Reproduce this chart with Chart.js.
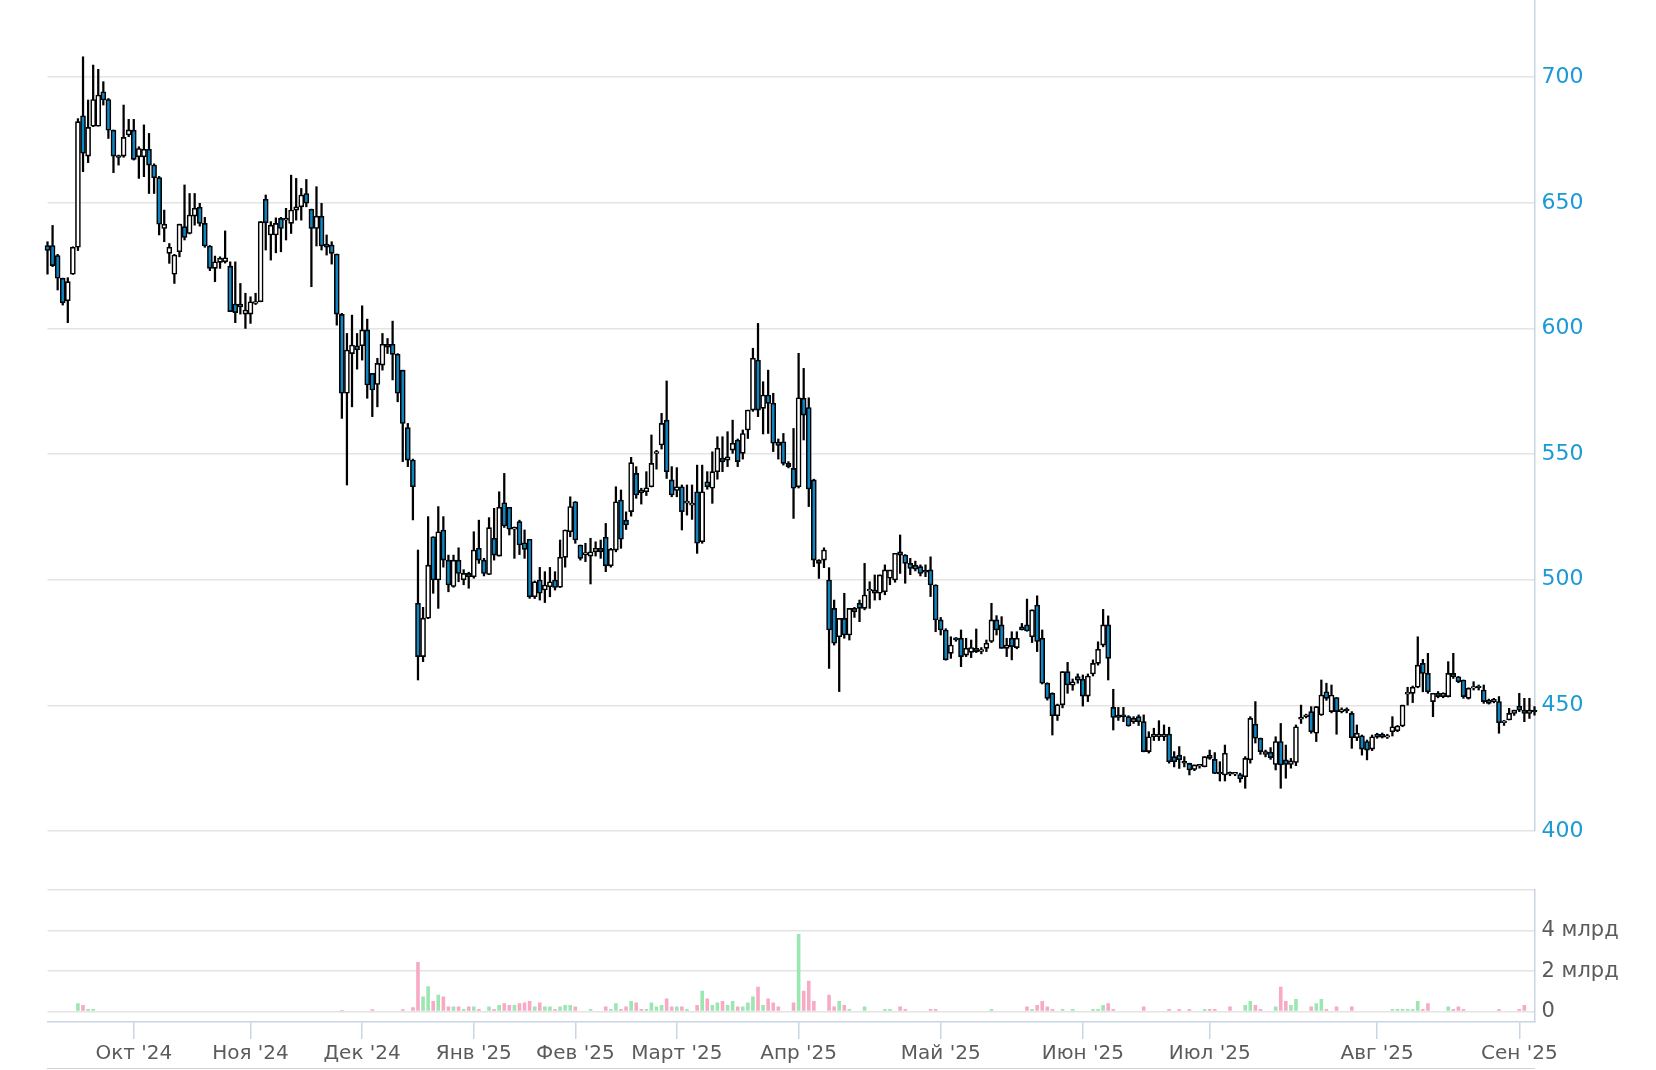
<!DOCTYPE html>
<html lang="ru">

<head>
    <meta charset="UTF-8">
    <meta name="viewport" content="width=device-width, initial-scale=1.0">
    <title>Котировки | свечи и объём</title>

    <!-- Chart.js -->
    <script src="https://cdn.jsdelivr.net/npm/chart.js"></script>

    <style>
        html,
        body {
            margin: 0;
            padding: 0;
            background: #ffffff;
        }

        .janela {
            position: relative;
            width: 1656px;
            height: 1070px;
            overflow: hidden;
        }

        #graficoPreco {
            position: absolute;
            left: 0;
            top: 0;
        }

        #graficoVolume {
            position: absolute;
            left: 0;
            top: 850px;
        }

        .linhaBase {
            position: absolute;
            left: 47px;
            top: 1068px;
            width: 1488px;
            border-top: 1px solid #d3d3d3;
        }
    </style>
</head>

<body>
    <div class="janela">
        <canvas id="graficoPreco" width="1656" height="850"></canvas>
        <canvas id="graficoVolume" width="1656" height="220"></canvas>
        <div class="linhaBase"></div>
    </div>
</body>

</html>

<script>

    // dados das velas (um valor por pregão)
    const abertura = [
        633, 633, 629, 620, 611, 621.6, 632.3, 684.6, 668.6, 680.5,
        680.5, 694.2, 691.1, 678.9, 668.6, 668.6, 677, 678.9, 668.3, 668.3,
        671.3, 665, 660, 639.8, 629.9, 621.6, 630.5, 640.5, 637.8, 644.7,
        648.2, 641.8, 632.8, 623.9, 626.3, 626.5, 624.8, 609.7, 609.7, 605.7,
        605.7, 610, 610.6, 651.4, 637.2, 637.2, 643.8, 643.1, 641.8, 647.1,
        648.4, 653.7, 647.4, 639.8, 644.7, 633.6, 633.2, 629.6, 605.6, 574.2,
        590, 593.1, 593.1, 599.4, 582.1, 577.7, 585.4, 593.7, 593.7, 589.7,
        583.4, 560.5, 547.6, 490.6, 469.4, 484.7, 517.1, 499.9, 519.8, 507.8,
        497.3, 507.8, 500, 502.5, 501.2, 512.5, 507.8, 502.1, 516.5, 509.4,
        530.6, 528.8, 520.1, 523.1, 514.7, 516.1, 493.2, 499.9, 495.9, 497.2,
        499.9, 497, 508.9, 519.1, 531, 513.8, 510, 509.4, 511.1, 512.5,
        516.9, 505.5, 511.8, 531.7, 523.7, 527.1, 542.3, 535.7, 535, 537,
        550.3, 553.6, 563.5, 539.7, 535.5, 537, 530.5, 529.7, 535, 515.1,
        539, 536.4, 543, 548.3, 547.6, 551.6, 555.6, 550.3, 559.6, 567.5,
        587.4, 568.2, 573.5, 570.2, 554.8, 554.9, 546.3, 544.3, 537, 572.2,
        568.5, 539.7, 507.8, 507.8, 499.9, 488.6, 477.3, 484.6, 478, 487.3,
        490.6, 488.6, 495.5, 495.9, 494.6, 495.2, 500.6, 499.9, 511.1, 509.8,
        506.5, 505.8, 505.2, 503.5, 503.9, 497.9, 484, 480, 470.7, 476.9,
        476.7, 470, 471.1, 472.7, 471.5, 472.7, 475.4, 484, 482, 472.7,
        476.7, 473, 481.3, 482, 477.3, 489.9, 476.7, 458.8, 454.8, 445.9,
        450.2, 463.4, 458, 461.5, 460.4, 453.7, 462.5, 466.7, 474, 482,
        449.2, 446.1, 446.1, 445.5, 443.5, 445.5, 443.5, 431.6, 437.5, 437.5,
        437.5, 438.6, 429.6, 430.2, 427.6, 426.9, 424.5, 425.8, 425.6, 430.2,
        428.5, 423.2, 422.3, 423.2, 422.6, 422.5, 421.6, 428.3, 442.5, 436.9,
        430.5, 431.3, 426.5, 435.6, 428.3, 426.5, 427.3, 444.5, 445.5, 447.5,
        438.9, 446.2, 455.4, 447.5, 453.1, 447.5, 448.3, 446.8, 437.1, 437.9,
        435.6, 432.6, 438.6, 438.5, 437.3, 439.5, 439.9, 441.8, 454.5, 454.8,
        457.2, 466.7, 462.7, 451.5, 454.8, 453.5, 453.5, 462.7, 461.4, 460.1,
        452.8, 456.8, 457.2, 456.1, 452.1, 451.5, 451.5, 443.1, 444.2, 446.8,
        449.7, 448.1, 446.8, 447.5
    ];

    const maxima = [
        634.5, 641, 629.5, 620, 620.2, 632.5, 683.5, 708.1, 690.9, 704.8,
        703.1, 698.2, 691.5, 679, 669, 688.9, 683.2, 683.2, 672.3, 681,
        677.6, 665.5, 660.5, 647.1, 633.8, 629.5, 641.5, 657.1, 653.7, 653.7,
        649.8, 644.2, 633, 628.8, 628.5, 638.8, 626.5, 626.5, 617.9, 614,
        612.6, 614, 642.5, 653.1, 642.5, 644, 644.2, 647.8, 661, 659.7,
        655.7, 659.3, 647.5, 656.4, 649.8, 637.2, 634.5, 629.6, 606, 598,
        605.3, 598, 609, 603.7, 582.1, 588.1, 598, 596, 602.9, 590,
        583.4, 562.2, 548, 511.8, 489, 525.1, 517.1, 529.1, 525.1, 509.8,
        509.8, 512.7, 504, 503, 519.1, 523.7, 508.5, 524.7, 528.4, 535,
        542.3, 528.8, 521, 523.7, 519.8, 516.1, 499.5, 504.9, 503.2, 504.9,
        503.2, 515.8, 519.8, 533, 531.1, 513.8, 514.5, 516.5, 515.1, 515.8,
        522.4, 512.5, 537, 535.7, 527, 548.7, 545, 536.4, 543, 557.6,
        551.5, 566.2, 579.1, 545, 544.6, 537.7, 537.7, 537.7, 545.6, 545.6,
        543, 550.9, 556.9, 556.9, 558.9, 563.5, 556, 559.6, 567.5, 592.1,
        602, 578.8, 583.4, 574.2, 556, 558.2, 547, 560.2, 590.1, 584.1,
        572.4, 540, 508, 512.7, 504.8, 491.9, 484.6, 494.6, 488.6, 489,
        491.9, 506.5, 499.2, 501.9, 501.9, 505.9, 503, 510.5, 517.8, 510,
        508.5, 507.4, 505.9, 505.9, 509.1, 498, 485, 480.5, 477.3, 477,
        480, 476.7, 476, 480.4, 473, 476, 490.6, 485.7, 485.3, 476.7,
        479.3, 479.3, 482.6, 492.3, 488, 493.6, 480, 459, 455, 450.5,
        463.4, 467.1, 460.5, 462.5, 462.1, 462.5, 468.1, 475.3, 488.2, 485.6,
        456.4, 449.2, 449.2, 445.9, 445.5, 446.2, 446.2, 439.5, 440.9, 443.9,
        442.2, 441.3, 431.6, 433.6, 429.6, 427, 426.3, 426.3, 429.6, 432.2,
        431.2, 427.6, 434.2, 423.5, 423, 423, 429.6, 445.5, 451.5, 437,
        432.2, 433.2, 437.5, 442.8, 434.2, 428.9, 442.2, 450.1, 446.5, 449.5,
        449.5, 460.1, 458.8, 458.1, 453.1, 449, 449, 447.5, 442.2, 438.2,
        436.2, 438.2, 438.9, 439, 438.5, 445.5, 442, 450.1, 457.2, 457.7,
        477.3, 468.3, 470.7, 454.8, 455.5, 455, 467.4, 470.7, 461.5, 460.1,
        457, 459.4, 458.1, 458.1, 452.5, 452.8, 453.5, 444, 448.8, 448.1,
        454.8, 452.8, 452.8, 449.5
    ];

    const minimas = [
        621.6, 624.6, 615.3, 609.3, 602.3, 621.5, 631, 662.4, 666, 680.3,
        680.5, 688.9, 675.6, 662, 665, 668.1, 676.3, 667, 659.7, 660.4,
        653.7, 653.7, 637.2, 634.5, 625.9, 617.9, 628.5, 635.2, 637.6, 641.1,
        640.7, 632.3, 623, 618.6, 623.9, 626, 606.7, 602.3, 605.7, 600,
        602, 609.5, 610.6, 631.2, 627.2, 630.1, 630.5, 635.2, 637.8, 643.1,
        643.1, 648.4, 616.6, 632.8, 631.2, 629.2, 625.6, 601.3, 564.2, 537.7,
        568.8, 583.8, 587.4, 572.2, 564.9, 568.8, 583.4, 590, 579.5, 570.8,
        547, 545, 523.8, 460.1, 467.4, 484.5, 494.6, 488.6, 505, 495.2,
        497, 499.2, 498, 496.6, 500.6, 506.5, 501.5, 502, 507.8, 509.4,
        520.8, 517.8, 508.5, 510, 508.5, 492.6, 492.5, 491.9, 490.9, 493.2,
        495.9, 496.9, 505, 517.1, 514.5, 507.8, 507.2, 498.3, 509.4, 508.5,
        503.2, 505, 511.1, 512.5, 520, 525.3, 532.4, 530.1, 533.5, 536.9,
        544, 552, 540.3, 533, 533, 519.8, 525.7, 524, 510.5, 514.5,
        536, 530.4, 540, 543, 545, 550.3, 545, 548, 556.2, 567,
        564.9, 558, 558.2, 551, 548, 545.6, 544.5, 524.4, 536.5, 555.6,
        529.1, 505.2, 500.5, 504.8, 464.7, 474, 455.5, 476.7, 476, 485,
        483.3, 488, 488.6, 491.9, 492, 494, 498, 499, 502.5, 498.6,
        502, 503.5, 501.5, 501.2, 493.3, 479.3, 478, 468, 468.7, 475.5,
        465.4, 469.4, 469, 471, 470.5, 471.4, 475, 478, 472.7, 469.4,
        468.1, 472.5, 480, 479.5, 475, 471.4, 458.5, 452.1, 438.2, 444,
        449, 454.8, 456, 458.8, 449.7, 451.5, 461.7, 466, 473.3, 460.1,
        440.2, 444, 443.5, 441.7, 442.8, 442, 431.5, 431, 436, 436,
        436, 427, 425.5, 424.9, 425.5, 422.3, 424, 425, 425.5, 428.5,
        422.8, 419.9, 419.9, 422, 422, 419.4, 417, 427, 435, 430.5,
        429.5, 428.5, 424.3, 417, 421, 425, 426, 442.8, 445, 438.9,
        435.6, 446, 452, 447, 438.5, 447, 447, 432.9, 436, 430.2,
        428.3, 432, 436.9, 437, 436.8, 437.8, 439.5, 441.5, 450.1, 451.1,
        457, 455.4, 454.8, 445.5, 453, 453, 453.3, 460.7, 459, 452.8,
        452.5, 456.1, 456.1, 450.8, 450.5, 451, 438.9, 442, 444.2, 446,
        447.5, 443.5, 444.8, 446.1
    ];

    const fechamento = [
        631, 625, 620, 610.2, 618.6, 632.3, 682.3, 669.7, 680, 691.1,
        692.9, 690.9, 678.9, 668.6, 668.1, 676, 679, 667.3, 671.6, 671.3,
        665, 660, 641.5, 641.5, 632.3, 629.2, 641.5, 636.2, 645.1, 647.8,
        641.8, 632.8, 623.9, 626.5, 627.9, 628.1, 606.7, 606.3, 608.6, 607.3,
        610.6, 610.6, 642.5, 642, 641.1, 641.8, 639.8, 643.8, 647.1, 648.4,
        653.1, 649.8, 639.8, 644.7, 632.8, 632.3, 629.9, 605.7, 574.2, 591.4,
        593.4, 591.4, 599.4, 577.5, 575.5, 586.1, 593.7, 592.5, 589.7, 574.2,
        562.2, 547.6, 537, 469.4, 484.7, 505.8, 499.9, 519.1, 507.8, 497.9,
        507.8, 502.5, 502.5, 501.2, 511.8, 507.8, 502.5, 520.7, 509.8, 528.8,
        521.4, 520.1, 520.8, 513.8, 512.1, 493.2, 499.2, 494.6, 497.9, 499.2,
        496.9, 508.9, 519.8, 529.1, 515.8, 508.5, 510.8, 511.1, 512.5, 511.1,
        505.5, 512.1, 531, 516.1, 521.8, 546.6, 533.7, 534.6, 536.6, 546.3,
        550.9, 562.2, 543, 533.7, 537, 527.1, 531.3, 530, 514.5, 535,
        537, 543, 552.3, 546.9, 548.9, 554.3, 547, 558.2, 567.5, 588.1,
        567.5, 573.5, 570.2, 554.3, 553.4, 546.3, 545, 536.4, 572.4, 565.5,
        536.1, 507.8, 506.5, 511.8, 480, 474.7, 484.6, 478, 488.6, 488.6,
        488.6, 493.9, 495.9, 494.6, 501.9, 503.9, 503.9, 510.5, 509.8, 506.5,
        504.5, 504.2, 502.5, 503, 497.9, 484, 480, 468.1, 474, 476,
        469.4, 472.7, 473, 471.4, 472.2, 474.7, 484, 480, 472.7, 474,
        473.4, 476.7, 480, 479.6, 488, 475.4, 458.8, 452.8, 445.9, 450.2,
        463.4, 458.1, 459.4, 460, 453.7, 461.7, 466.7, 472.3, 482, 468.7,
        445.2, 445.2, 445.5, 441.8, 444.8, 443.5, 431.6, 437.5, 438.5, 438.5,
        438.5, 427.6, 427.6, 428.3, 427, 424.3, 426.3, 426.2, 429.6, 428.9,
        422.9, 422.7, 430.9, 422.6, 422.9, 420.7, 428.9, 444.8, 436.9, 431.6,
        431.6, 429.2, 435.6, 426.3, 426.5, 427.9, 441.5, 445, 446.2, 439.5,
        449.5, 454.1, 452.8, 454.1, 447.5, 448.3, 447.8, 437.1, 438.9, 432.6,
        432.2, 437.5, 437.3, 437.3, 438, 441.5, 441.8, 450.1, 455, 457.2,
        466, 462.7, 455.4, 454.8, 453.5, 454.8, 462.7, 461.4, 459.4, 453.5,
        456.8, 457.2, 457, 451.5, 450.8, 452.4, 443.1, 443.5, 446.8, 448.1,
        448.1, 446.8, 448.1, 447.4
    ];

    // volume em bilhões (млрд)
    const volume = [
        0, 0, 0, 0, 0, 0, 0.42, 0.33, 0.13, 0.13,
        0, 0, 0, 0, 0, 0, 0, 0, 0, 0,
        0, 0, 0, 0, 0, 0, 0, 0, 0, 0,
        0, 0, 0, 0, 0, 0, 0, 0, 0, 0,
        0, 0, 0, 0, 0, 0, 0, 0, 0, 0,
        0, 0, 0, 0, 0, 0, 0, 0, 0.08, 0,
        0, 0, 0, 0, 0.12, 0, 0, 0, 0, 0,
        0.12, 0, 0.22, 2.45, 0.75, 1.25, 0.53, 0.83, 0.75, 0.25,
        0.25, 0.25, 0.13, 0.25, 0.25, 0.13, 0, 0.25, 0.13, 0.33,
        0.42, 0.33, 0.33, 0.42, 0.45, 0.53, 0.25, 0.45, 0.25, 0.25,
        0.13, 0.25, 0.33, 0.33, 0.25, 0, 0, 0.13, 0, 0,
        0.25, 0.13, 0.42, 0.13, 0.25, 0.53, 0.45, 0.13, 0.13, 0.45,
        0.25, 0.33, 0.65, 0.25, 0.25, 0.25, 0.13, 0, 0.33, 1.03,
        0.65, 0.33, 0.45, 0.53, 0.33, 0.53, 0.25, 0.25, 0.45, 0.75,
        1.23, 0.33, 0.65, 0.45, 0.25, 0, 0, 0.45, 3.83, 1.03,
        1.53, 0.53, 0, 0, 0.83, 0.25, 0.53, 0.33, 0.13, 0,
        0, 0.25, 0, 0, 0, 0.13, 0.13, 0, 0.25, 0.13,
        0, 0, 0, 0, 0.13, 0.13, 0, 0, 0, 0,
        0, 0, 0, 0, 0, 0, 0.13, 0, 0, 0,
        0, 0, 0, 0.25, 0.13, 0.33, 0.53, 0.25, 0.13, 0,
        0.13, 0, 0.13, 0, 0, 0, 0.13, 0.13, 0.33, 0.42,
        0.13, 0, 0, 0, 0, 0, 0.25, 0, 0, 0,
        0, 0.13, 0, 0.13, 0, 0.13, 0, 0, 0.13, 0.13,
        0.13, 0, 0, 0.25, 0, 0, 0.33, 0.53, 0.33, 0.13,
        0, 0, 0.25, 1.23, 0.53, 0.33, 0.63, 0, 0, 0.25,
        0.42, 0.63, 0.13, 0, 0.25, 0, 0, 0.25, 0, 0,
        0, 0, 0, 0, 0, 0.13, 0.13, 0.13, 0.13, 0.13,
        0.53, 0.13, 0.42, 0, 0, 0, 0.25, 0.13, 0.25, 0.13,
        0, 0, 0, 0, 0, 0, 0.13, 0, 0, 0,
        0.13, 0.33, 0, 0
    ];

    // posição (índice do pregão) e nome de cada mês no eixo x
    const indicesMeses = [17, 40, 62, 84, 104, 124, 148, 176, 204, 229, 262, 290];
    const nomesMeses = ["Окт '24", "Ноя '24", "Дек '24", "Янв '25", "Фев '25", "Март '25",
        "Апр '25", "Май '25", "Июн '25", "Июл '25", "Авг '25", "Сен '25"];

    // marcas dos eixos da direita
    const ticksPreco = [400, 450, 500, 550, 600, 650, 700];
    const ticksVolume = [0, 2, 4, 6];
    const rotulosVolume = ['0', '2 млрд', '4 млрд', ''];

    // cores
    const corAlta = '#ffffff';
    const corBaixa = '#0f86c2';
    const corVolumeAlta = '#9be6b1';
    const corVolumeBaixa = '#f8a9c4';
    const corGrade = '#e4e4e4';
    const corEixo = '#c8d5e6';
    const corTextoPreco = '#1b9ad6';
    const corTexto = '#5b5b5b';
    const fonte = 'DejaVu Sans';

    function larguraEixoDireito(eixo) {
        // mesma largura nos dois gráficos para alinhar as velas com o volume
        eixo.width = 121.5;
        eixo.paddingTop = 0;
        eixo.paddingBottom = 0;
    }

    function plotarGraficoPreco(rotulos) {
        console.log('iniciando plotagem do gráfico de velas...');

        let corpos = [];
        let sombras = [];
        let coresCorpo = [];

        for (let i = 0; i < abertura.length; i++) {
            corpos.push([abertura[i], fechamento[i]]);
            sombras.push([minimas[i], maxima[i]]);
            coresCorpo.push(fechamento[i] >= abertura[i] ? corAlta : corBaixa);
        }

        const config = {
            type: 'bar',
            data: {
                labels: rotulos,
                datasets: [{
                    label: 'corpo',
                    data: corpos,
                    backgroundColor: coresCorpo,
                    borderColor: '#000000',
                    borderWidth: 1.6,
                    borderSkipped: false,
                    barThickness: 5,
                    minBarLength: 1.8,
                    grouped: false,
                    clip: false
                },
                {
                    label: 'sombra',
                    data: sombras,
                    backgroundColor: '#000000',
                    borderWidth: 0,
                    barThickness: 1.6,
                    grouped: false,
                    clip: false
                }]
            },
            options: {
                responsive: false,
                animation: false,
                layout: { padding: { left: 47.5, right: 0, top: 0, bottom: 19 } },
                plugins: {
                    legend: { display: false },
                    tooltip: { enabled: false }
                },
                scales: {
                    x: {
                        type: 'category',
                        display: false,
                        offset: false
                    },
                    y: {
                        position: 'right',
                        min: 400,
                        max: 730.7,
                        afterBuildTicks: function (eixo) {
                            eixo.ticks = ticksPreco.map(v => ({ value: v }));
                        },
                        afterFit: larguraEixoDireito,
                        grid: { color: corGrade, lineWidth: 1.6, drawTicks: false },
                        border: { display: true, color: corEixo, width: 1.5 },
                        ticks: {
                            color: corTextoPreco,
                            font: { family: fonte, size: 22 },
                            padding: 7,
                            callback: v => v
                        }
                    }
                }
            }
        };

        let graficoPreco = new Chart(document.getElementById('graficoPreco'), config);
    }

    function plotarGraficoVolume(rotulos) {
        console.log('iniciando plotagem do gráfico de volume...');

        let coresVolume = [];
        for (let i = 0; i < volume.length; i++) {
            coresVolume.push(fechamento[i] >= abertura[i] ? corVolumeAlta : corVolumeBaixa);
        }

        const config = {
            type: 'bar',
            data: {
                labels: rotulos,
                datasets: [{
                    label: 'volume',
                    data: volume,
                    backgroundColor: coresVolume,
                    borderWidth: 0,
                    barThickness: 3.6,
                    inflateAmount: 0,
                    grouped: false
                }]
            },
            options: {
                responsive: false,
                animation: false,
                layout: { padding: { left: 47.5, right: 0, top: 40, bottom: 0 } },
                plugins: {
                    legend: { display: false },
                    tooltip: { enabled: false }
                },
                scales: {
                    x: {
                        type: 'category',
                        offset: false,
                        afterBuildTicks: function (eixo) {
                            eixo.ticks = indicesMeses.map(i => ({ value: i }));
                        },
                        afterFit: function (eixo) {
                            eixo.height = 48;
                        },
                        grid: {
                            offset: false,
                            drawOnChartArea: false,
                            drawTicks: true,
                            tickLength: 17,
                            color: corEixo,
                            lineWidth: 1.5
                        },
                        border: { display: true, color: corEixo, width: 1.6 },
                        ticks: {
                            autoSkip: false,
                            maxRotation: 0,
                            color: corTexto,
                            font: { family: fonte, size: 20 },
                            padding: 3,
                            callback: v => nomesMeses[indicesMeses.indexOf(v)]
                        }
                    },
                    y: {
                        position: 'right',
                        min: -0.51,
                        max: 6,
                        afterBuildTicks: function (eixo) {
                            eixo.ticks = ticksVolume.map(v => ({ value: v }));
                        },
                        afterFit: larguraEixoDireito,
                        grid: { color: corGrade, lineWidth: 1.6, drawTicks: false },
                        border: { display: true, color: corEixo, width: 1.5 },
                        ticks: {
                            color: corTexto,
                            font: { family: fonte, size: 21 },
                            padding: 7,
                            callback: v => rotulosVolume[ticksVolume.indexOf(v)]
                        }
                    }
                }
            }
        };

        let graficoVolume = new Chart(document.getElementById('graficoVolume'), config);
    }

    // um rótulo por pregão (o eixo só mostra os meses)
    let rotulos = abertura.map((v, i) => String(i));

    console.log('total de pregões:', rotulos.length);

    plotarGraficoPreco(rotulos);
    plotarGraficoVolume(rotulos);

</script>
